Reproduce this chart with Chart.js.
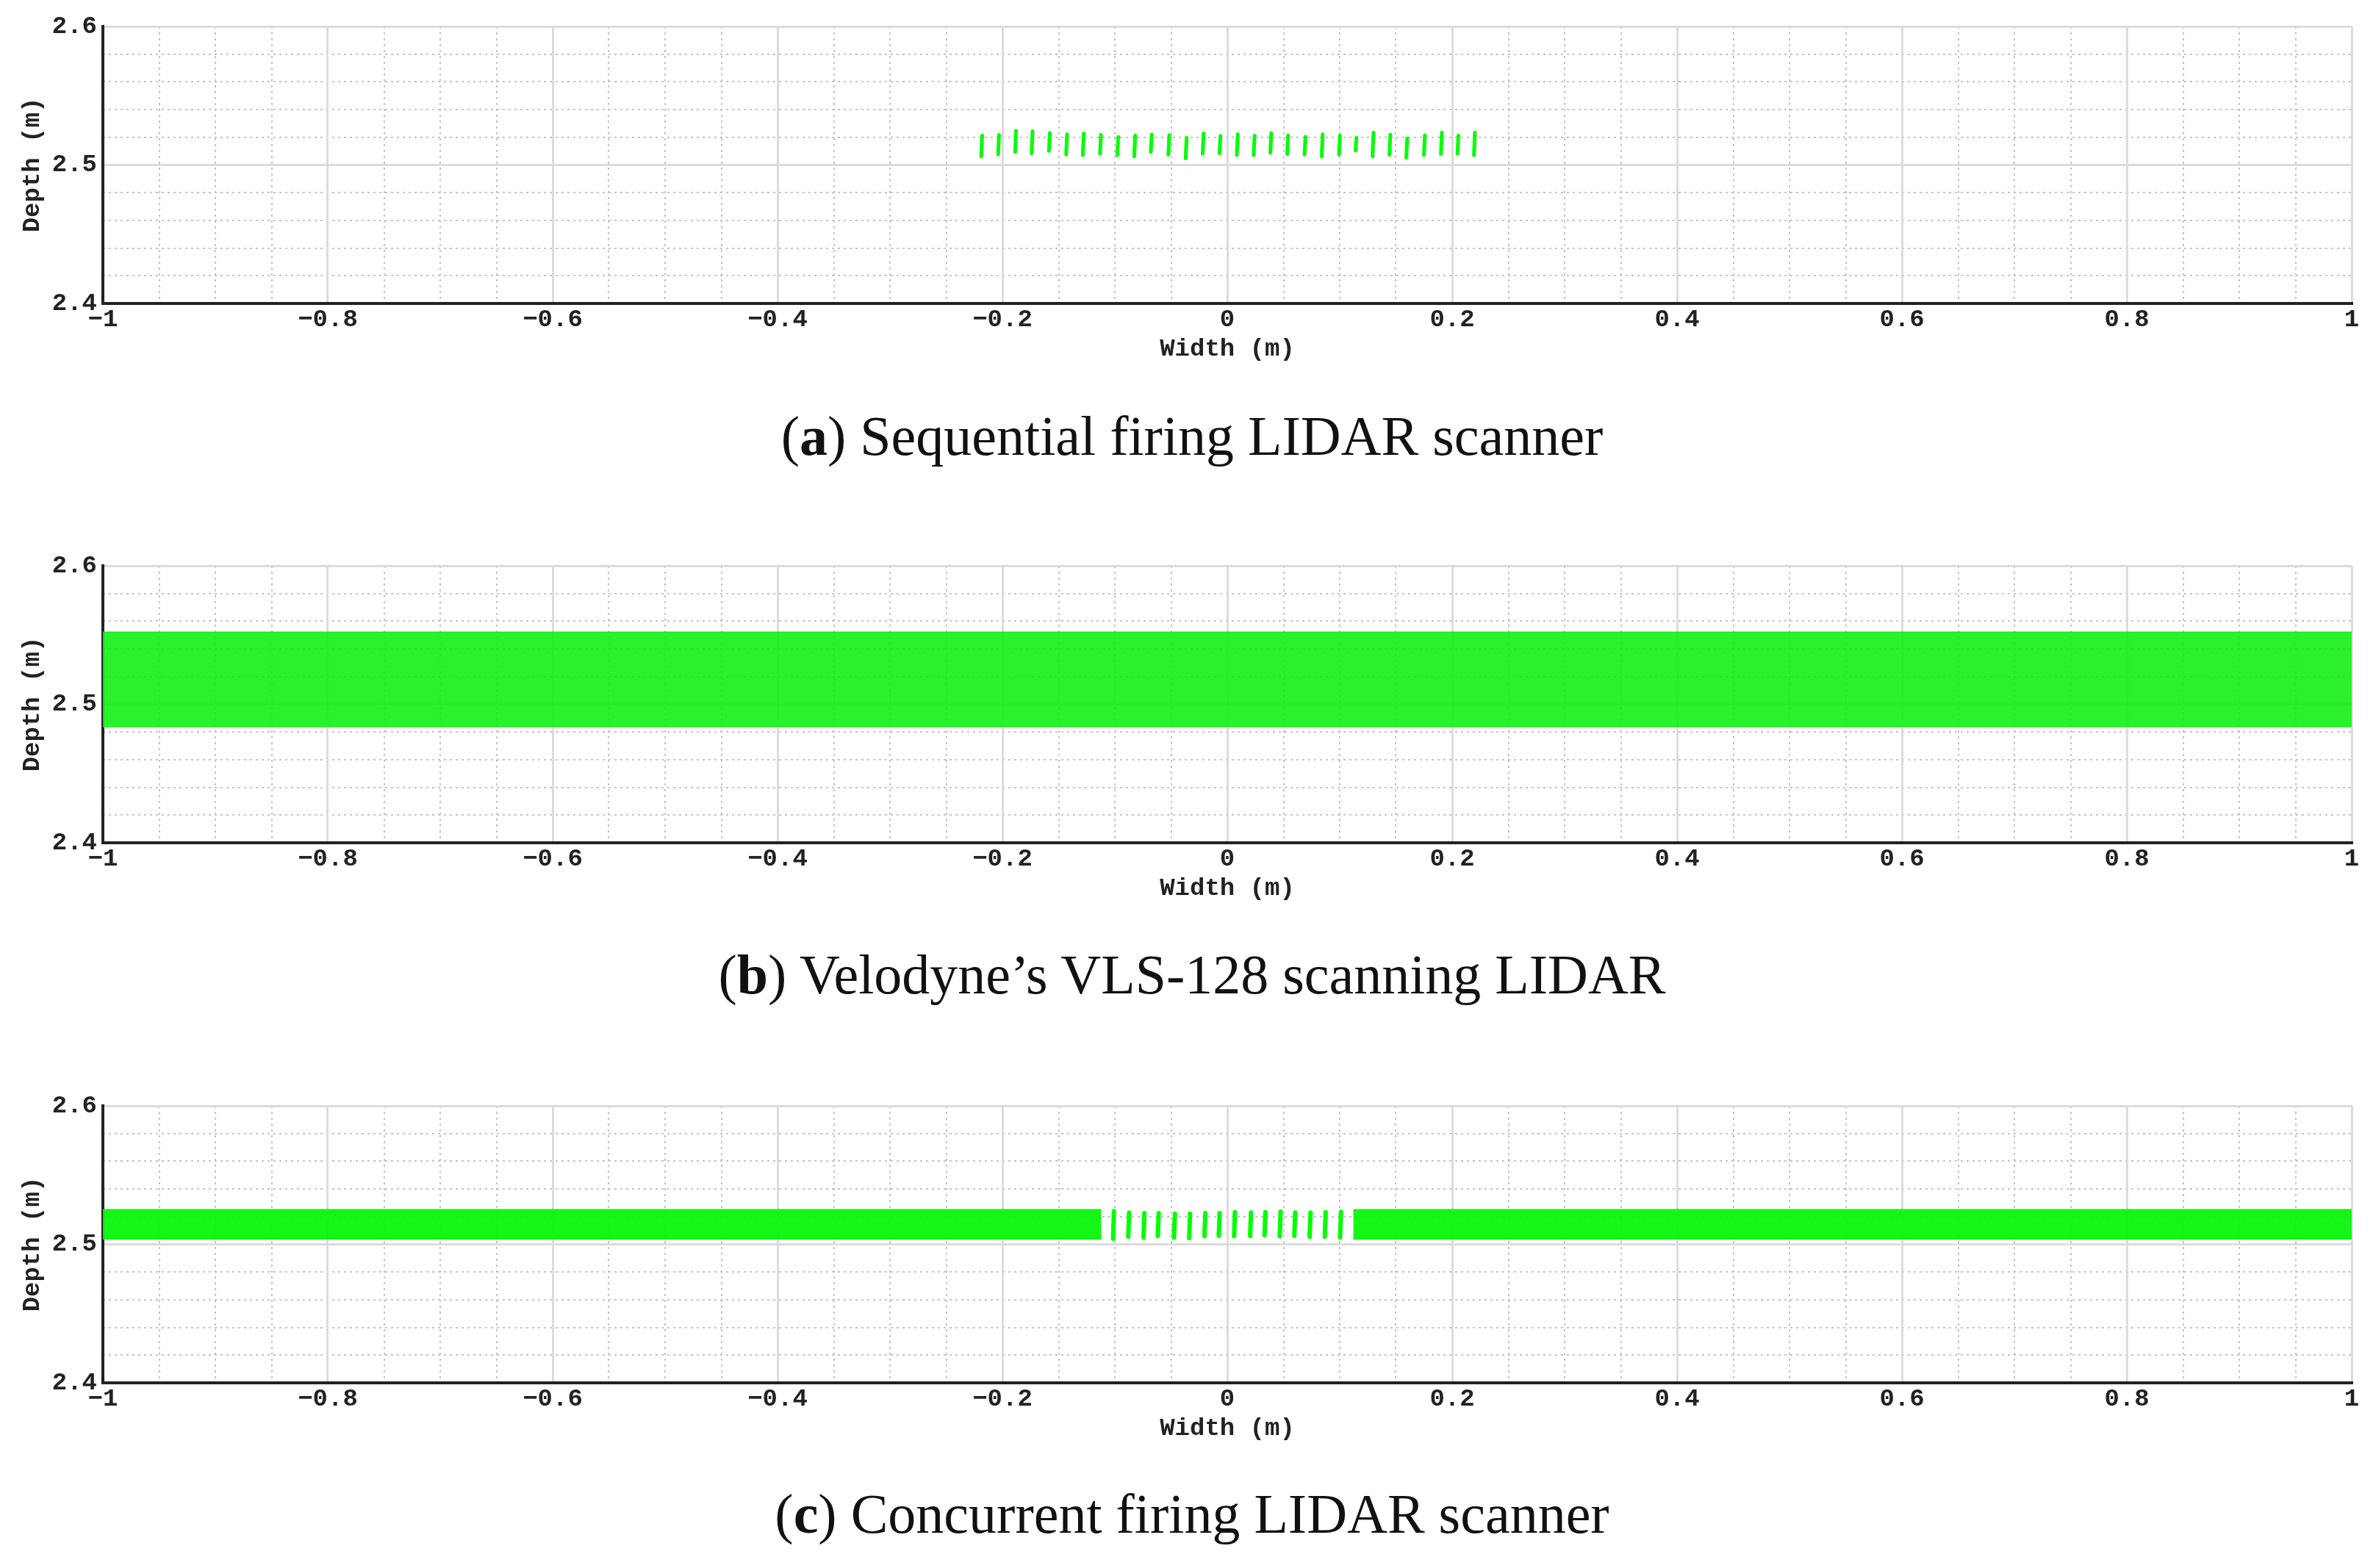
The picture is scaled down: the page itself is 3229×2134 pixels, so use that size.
<!DOCTYPE html>
<html>
<head>
<meta charset="utf-8">
<script src="https://cdn.jsdelivr.net/npm/chart.js@4.4.1/dist/chart.umd.min.js"></script>
<style>
  body { margin: 0; background: #fff; width: 3229px; height: 2134px; position: relative; overflow: hidden; }
  .panel { position: absolute; left: 0; width: 3229px; height: 500px; }
  .caption { position: absolute; left: 0; width: 3244px; text-align: center; font-family: "Liberation Serif", serif; font-size: 76px; color: #111; }
</style>
</head>
<body>
<div class="panel" style="top:0px"><canvas id="chartA"></canvas></div>
<div class="caption" style="top:550px">(<b>a</b>) Sequential firing LIDAR scanner</div>
<div class="panel" style="top:734px"><canvas id="chartB"></canvas></div>
<div class="caption" style="top:1283px">(<b>b</b>) Velodyne’s VLS-128 scanning LIDAR</div>
<div class="panel" style="top:1469px"><canvas id="chartC"></canvas></div>
<div class="caption" style="top:2017px">(<b>c</b>) Concurrent firing LIDAR scanner</div>
<script>
// ticks
const xTicks = [-1, -0.8, -0.6, -0.4, -0.2, 0, 0.2, 0.4, 0.6, 0.8, 1];
const yTicks = [2.4, 2.5, 2.6];

// (a) streaks: x position, top and bottom depth
const seqX = [-0.2188, -0.2038, -0.1887, -0.1740, -0.1586, -0.1433, -0.1285, -0.1132, -0.0978, -0.0827,
  -0.0680, -0.0524, -0.0370, -0.0219, -0.0069, 0.0085, 0.0235, 0.0383, 0.0533, 0.0687,
  0.0840, 0.0994, 0.1141, 0.1292, 0.1442, 0.1592, 0.1749, 0.1900, 0.2047, 0.2194];
const seqTop = [2.5212, 2.5217, 2.5247, 2.5244, 2.5231, 2.5221, 2.5228, 2.5217, 2.5201, 2.5212,
  2.5219, 2.5215, 2.5196, 2.5228, 2.5210, 2.5221, 2.5212, 2.5229, 2.5214, 2.5203,
  2.5221, 2.5212, 2.5196, 2.5233, 2.5219, 2.5192, 2.5215, 2.5233, 2.5212, 2.5233];
const seqBottom = [2.5062, 2.5076, 2.5094, 2.5085, 2.5102, 2.5076, 2.5071, 2.5083, 2.5071, 2.5062,
  2.5094, 2.5074, 2.5048, 2.5081, 2.5085, 2.5072, 2.5071, 2.5088, 2.5079, 2.5076,
  2.5062, 2.5076, 2.5104, 2.5062, 2.5074, 2.5053, 2.5071, 2.5079, 2.5083, 2.5071];

// (b) point cloud band
const velX = [-1, 1];
const velLow = [2.484, 2.484];
const velHigh = [2.552, 2.552];

// (c) dense band segments and central streaks
const conSegX = [[-1, -0.112], [0.112, 1]];
const conLow = 2.504;
const conHigh = 2.525;
const conStreakX = [-0.1016, -0.0881, -0.0745, -0.0618, -0.0474, -0.0339, -0.0203, -0.0076,
  0.0060, 0.0203, 0.0331, 0.0466, 0.0596, 0.0732, 0.0867, 0.1003];
const conStreakTop = [2.5240, 2.5228, 2.5225, 2.5225, 2.5222, 2.5222, 2.5225, 2.5225,
  2.5232, 2.5230, 2.5232, 2.5236, 2.5230, 2.5230, 2.5232, 2.5235];
const conStreakBottom = [2.5040, 2.5055, 2.5050, 2.5060, 2.5050, 2.5045, 2.5060, 2.5062,
  2.5060, 2.5060, 2.5066, 2.5058, 2.5062, 2.5055, 2.5055, 2.5050];

const GREEN = "#00ff00";
const monoFont = { family: "Liberation Mono", size: 34, weight: "bold" };

function streakData(xs, tops, bottoms) {
  const pts = [];
  xs.forEach((x, i) => {
    pts.push({ x: x, y: bottoms[i] });
    pts.push({ x: x + 0.0008, y: tops[i] });
    pts.push({ x: x, y: null });
  });
  return pts;
}

function streakSet(pts, w) {
  return { data: pts, borderColor: GREEN, borderWidth: w, pointRadius: 0, spanGaps: false, fill: false, borderCapStyle: "round" };
}

function bandSets(x0, x1, lo, hi, color) {
  return [
    { data: [{ x: x0, y: lo }, { x: x1, y: lo }], borderColor: color, borderWidth: 2, pointRadius: 0, fill: false },
    { data: [{ x: x0, y: hi }, { x: x1, y: hi }], borderColor: color, borderWidth: 2, pointRadius: 0, fill: "-1", backgroundColor: color },
  ];
}

function makeChart(id, datasets) {
  new Chart(document.getElementById(id), {
    type: "line",
    data: { datasets: datasets },
    options: {
      responsive: false,
      animation: false,
      devicePixelRatio: 1,
      layout: { padding: { top: 36, right: 29, left: 20, bottom: 0 } },
      plugins: { legend: { display: false }, tooltip: { enabled: false } },
      scales: {
        xm: {
          type: "linear", min: -1, max: 1, position: "bottom",
          ticks: { display: false, stepSize: 0.05 },
          grid: { color: "#c4c4c4", lineWidth: 2, drawTicks: false },
          border: { display: false, dash: [3, 5] },
          afterFit: (a) => { a.height = 0; },
        },
        ym: {
          type: "linear", min: 2.4, max: 2.6, position: "left",
          ticks: { display: false, stepSize: 0.02 },
          grid: { color: "#c4c4c4", lineWidth: 2, drawTicks: false },
          border: { display: false, dash: [3, 5] },
          afterFit: (a) => { a.width = 0; },
        },
        x: {
          type: "linear", min: -1, max: 1, position: "bottom",
          afterBuildTicks: (a) => { a.ticks = xTicks.map((v) => ({ value: v })); },
          ticks: { font: monoFont, color: "#222", padding: 2, maxRotation: 0, callback: (v) => String(v).replace("-", "\u2212") },
          grid: { color: "#dcdcdc", lineWidth: 3, drawTicks: false },
          border: { display: true, color: "#222", width: 4 },
          title: { display: true, text: "Width (m)", font: monoFont, color: "#222", padding: { top: 0 } },
          afterFit: (a) => { a.height = 87; },
        },
        y: {
          type: "linear", min: 2.4, max: 2.6, position: "left",
          afterBuildTicks: (a) => { a.ticks = yTicks.map((v) => ({ value: v })); },
          ticks: { font: monoFont, color: "#222", padding: 8, callback: (v) => v.toFixed(1) },
          grid: { color: "#dcdcdc", lineWidth: 3, drawTicks: false },
          border: { display: true, color: "#222", width: 4 },
          title: { display: true, text: "Depth (m)", font: monoFont, color: "#222", padding: { bottom: 4 } },
          afterFit: (a) => { a.width = 120; },
        },
      },
    },
  });
}

function sizeCanvas(id) {
  const c = document.getElementById(id);
  c.width = 3229; c.height = 500;
  c.style.width = "3229px"; c.style.height = "500px";
}
["chartA", "chartB", "chartC"].forEach(sizeCanvas);

makeChart("chartA", [streakSet(streakData(seqX, seqTop, seqBottom), 5)]);

makeChart("chartB", bandSets(velX[0], velX[1], velLow[0], velHigh[0], "rgba(20,240,20,0.9)"));

const cSets = [];
conSegX.forEach((s) => { cSets.push(...bandSets(s[0], s[1], conLow, conHigh, "rgba(10,245,10,0.95)")); });
cSets.push(streakSet(streakData(conStreakX, conStreakTop, conStreakBottom), 6));
makeChart("chartC", cSets);
</script>
</body>
</html>
